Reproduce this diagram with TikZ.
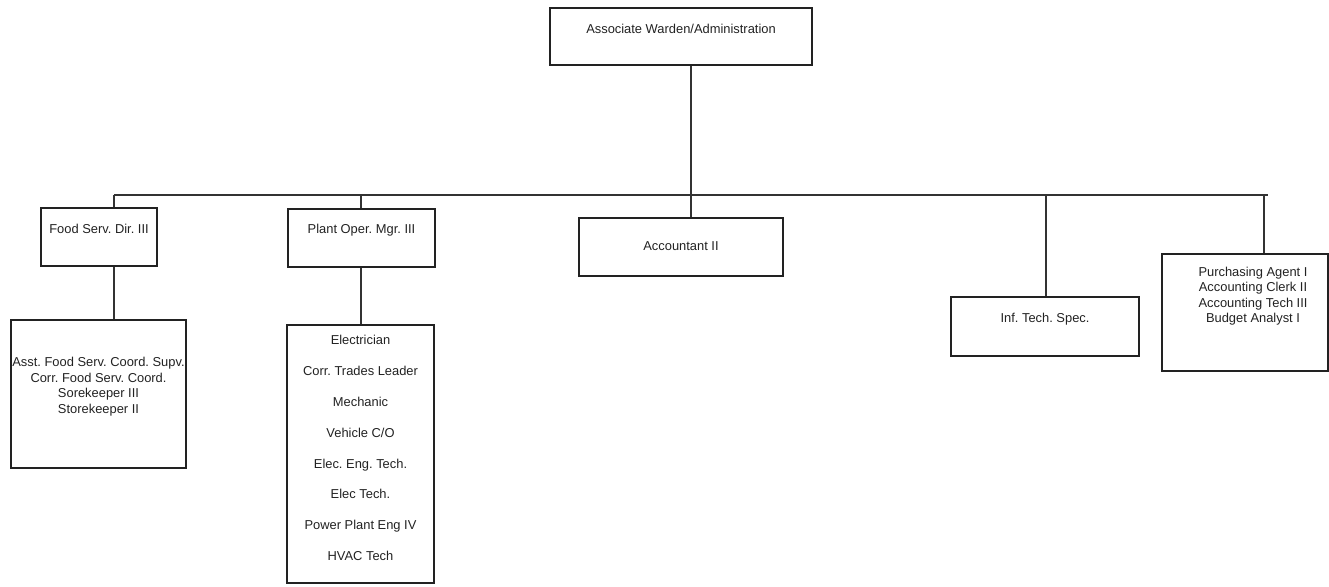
\documentclass[tikz,border=0pt]{standalone}
\usepackage{fontspec}
\setmainfont{Liberation Sans}
\frenchspacing
\definecolor{ink}{HTML}{222222}
\definecolor{wire}{HTML}{333333}
\tikzset{
  box/.style={draw=ink, line width=1.6pt, rectangle, inner sep=0pt, fill=none},
  txt/.style={text=ink, align=center, inner sep=0pt, font=\fontsize{12.9}{15.5}\selectfont\frenchspacing},
  listtxt/.style={text=ink, align=center, inner sep=0pt, font=\fontsize{12.9}{30.9}\selectfont\frenchspacing},
  wireline/.style={draw=wire, line width=1.3pt},
}
\begin{document}
\begin{tikzpicture}[x=1pt,y=-1pt]
\useasboundingbox (0,0) rectangle (1329,586);
% boxes
\node[box, minimum width=262pt, minimum height=57pt] (top) at (681,36.5) {};
\node[txt] (toptxt) at (681,29) {Associate Warden/Administration};

\node[box, minimum width=116pt, minimum height=58pt] (food) at (99,237) {};
\node[txt] (foodtxt) at (99,229) {Food Serv. Dir. III};

\node[box, minimum width=175pt, minimum height=148pt] (foodsub) at (98.5,394) {};
\node[txt] (foodsubtxt) at (98.5,386.5) {Asst. Food Serv. Coord. Supv.\\Corr. Food Serv. Coord.\\Sorekeeper III\\Storekeeper II};

\node[box, minimum width=147pt, minimum height=58pt] (plant) at (361.5,238) {};
\node[txt] (planttxt) at (361.5,230) {Plant Oper. Mgr. III};

\node[box, minimum width=147pt, minimum height=258pt] (plantsub) at (360.5,454) {};
\node[listtxt] (plantsubtxt) at (360.5,448) {Electrician\\Corr. Trades Leader\\Mechanic\\Vehicle C/O\\Elec. Eng. Tech.\\Elec Tech.\\Power Plant Eng IV\\HVAC Tech};

\node[box, minimum width=204pt, minimum height=58pt] (acct) at (681,247) {};
\node[txt] (accttxt) at (681,246) {Accountant II};

\node[box, minimum width=188pt, minimum height=59pt] (inf) at (1045,326.5) {};
\node[txt] (inftxt) at (1045,319) {Inf. Tech. Spec.};

\node[box, minimum width=166pt, minimum height=117pt] (right) at (1245,312.5) {};
\node[txt] (righttxt) at (1253,296) {Purchasing Agent I\\Accounting Clerk II\\Accounting Tech III\\Budget Analyst I};

% connector coordinates
\coordinate (busL) at (114,195);
\coordinate (busR) at (1268,195);
\coordinate (xtop) at (691,0);
\coordinate (xfood) at (114,0);
\coordinate (xplant) at (361,0);
\coordinate (xinf) at (1046,0);
\coordinate (xright) at (1264,0);

% connectors
\draw[wireline] (busL) -- (busR);
\draw[wireline] (top.south -| xtop) -- (acct.north -| xtop);
\draw[wireline] (busL) -- (food.north -| xfood);
\draw[wireline] (food.south -| xfood) -- (foodsub.north -| xfood);
\draw[wireline] (busL -| xplant) -- (plant.north -| xplant);
\draw[wireline] (plant.south -| xplant) -- (plantsub.north -| xplant);
\draw[wireline] (busL -| xinf) -- (inf.north -| xinf);
\draw[wireline] (busL -| xright) -- (right.north -| xright);
\end{tikzpicture}
\end{document}
